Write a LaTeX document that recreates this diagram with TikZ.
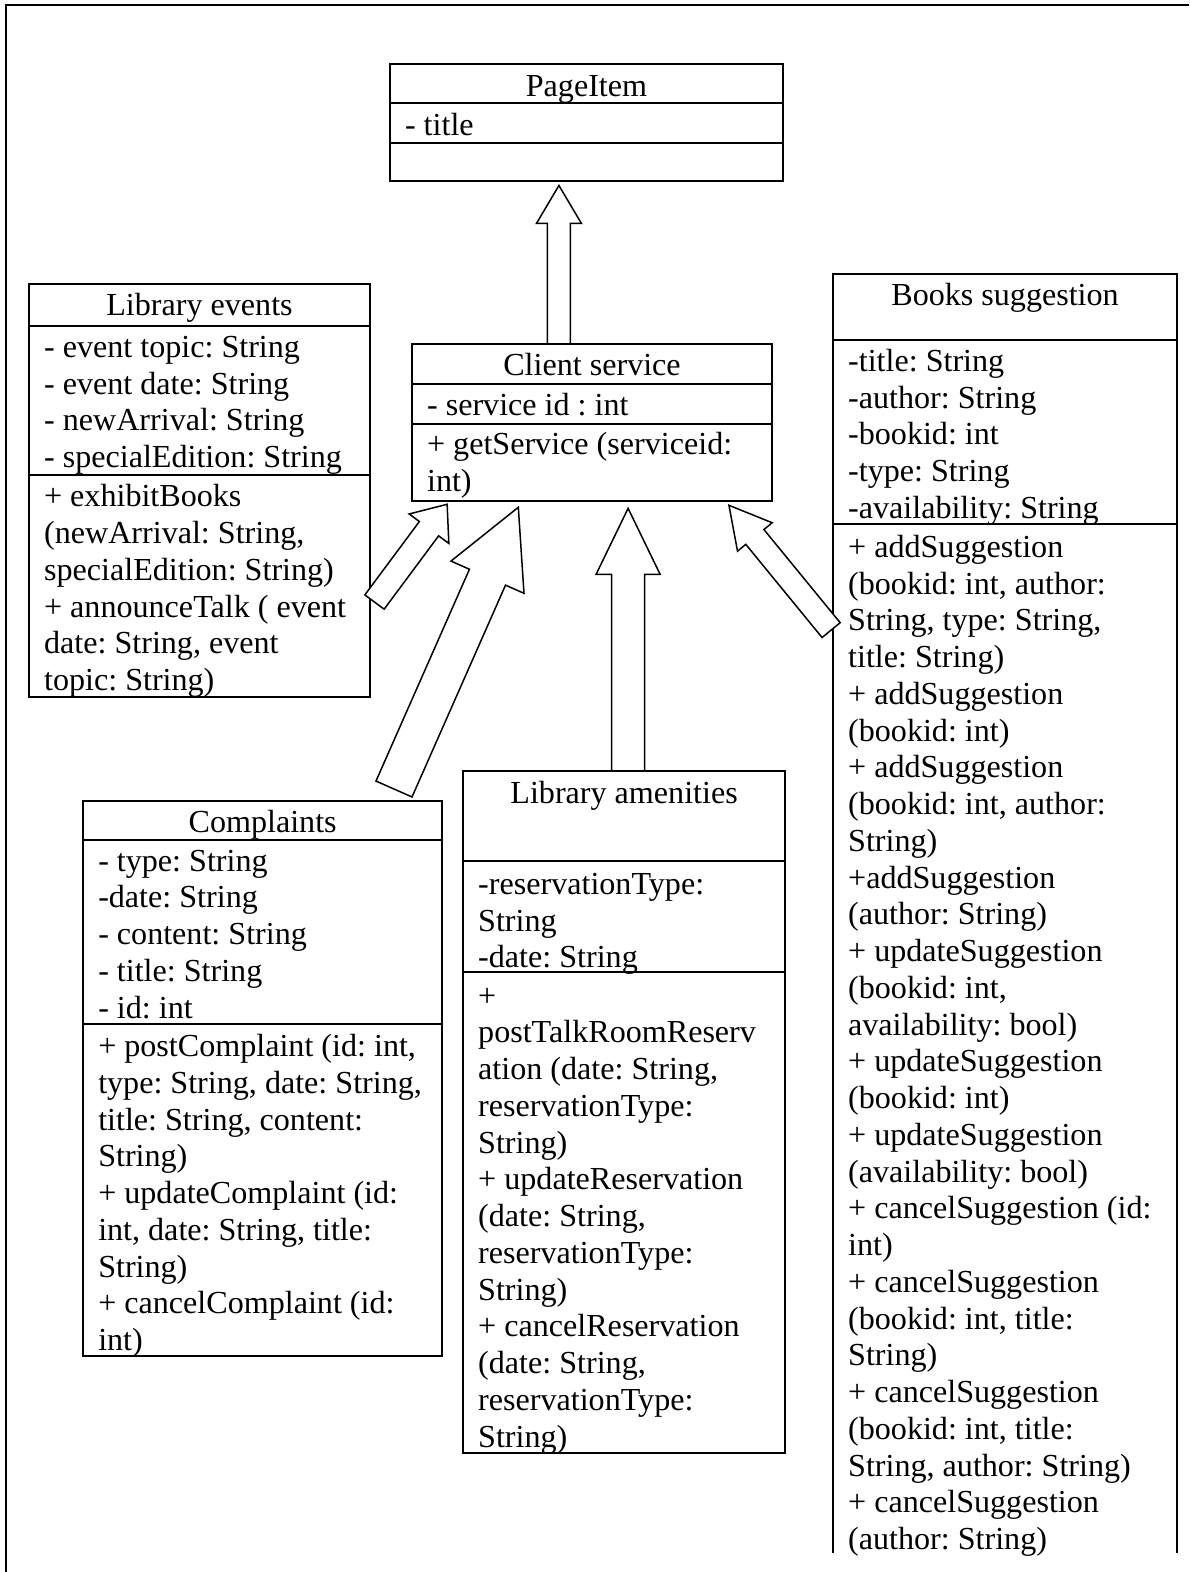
\documentclass[tikz,border=0pt]{standalone}
\usepackage{fontspec}
\setmainfont{Liberation Serif}
\usetikzlibrary{calc}

% one text row per line of a compartment, 36.65 units apart, baselines aligned
\newcommand\rows[4]{%
  \foreach \txt [count=\k from 0] in {#4} {%
    \node[rowtext] (#1\k) at (#2, {#3+\k*36.65}) {\txt};
  }%
}

% hollow block arrow: tail, tip, shaft half width, head half width, head length
\newcommand\blockarrow[5]{%
  \coordinate (bah) at ($(#2)!#5!(#1)$);
  \draw[hollowarrow]
    ($(#1)!#3!90:(#2)$) -- ($(bah)!#3!90:(#2)$) -- ($(bah)!#4!90:(#2)$) --
    (#2) --
    ($(bah)!#4!-90:(#2)$) -- ($(bah)!#3!-90:(#2)$) -- ($(#1)!#3!-90:(#2)$) -- cycle;
}

\begin{document}
\begin{tikzpicture}[x=1.00253pt, y=-1.00253pt,
  every node/.style={font=\fontsize{32.1pt}{36.8pt}\selectfont\frenchspacing},
  rowtext/.style={anchor=base west, inner sep=0pt, outer sep=0pt},
  titletext/.style={anchor=base, inner sep=0pt, outer sep=0pt},
  classbox/.style={draw, line width=2pt, inner sep=0pt, outer sep=0pt, anchor=north west},
  divider/.style={line width=2pt},
  hollowarrow/.style={draw, fill=white, line width=1.5pt, line join=miter}]

\useasboundingbox (0,0) rectangle (1186,1568);

% page frame
\draw[line width=2pt] (6,1568) -- (6,5) -- (1186,5);

% ---------- PageItem ----------
\node[classbox, minimum width=393pt, minimum height=117.3pt] (pi) at (389,64) {};
\draw[divider] ($(pi.north west)+(0,39)$) -- ($(pi.north east)+(0,39)$);
\draw[divider] ($(pi.north west)+(0,79)$) -- ($(pi.north east)+(0,79)$);
\node[titletext] (pi-t) at (585,96) {PageItem};
\rows{pi-a}{404}{135}{- title}

% ---------- Client service ----------
\node[classbox, minimum width=360pt, minimum height=157.4pt] (cs) at (411,343) {};
\draw[divider] ($(cs.north west)+(0,40)$) -- ($(cs.north east)+(0,40)$);
\draw[divider] ($(cs.north west)+(0,79.5)$) -- ($(cs.north east)+(0,79.5)$);
\node[titletext] (cs-t) at (590.5,375) {Client service};
\rows{cs-a}{426}{414.5}{- service id : int}
\rows{cs-m}{426}{453.5}{+ getService (serviceid:, int)}

% ---------- Library events ----------
\node[classbox, minimum width=340.9pt, minimum height=413pt] (le) at (29,283) {};
\draw[divider] ($(le.north west)+(0,42)$) -- ($(le.north east)+(0,42)$);
\draw[divider] ($(le.north west)+(0,191)$) -- ($(le.north east)+(0,191)$);
\node[titletext] (le-t) at (199,315) {Library events};
\rows{le-a}{44}{356.5}{- event topic: String, - event date: String, - newArrival: String, - specialEdition: String}
\rows{le-m}{44}{505.5}{+ exhibitBooks, {(newArrival: String,}, specialEdition: String), + announceTalk ( event, {date: String, event}, topic: String)}

% ---------- Complaints ----------
\node[classbox, minimum width=358.9pt, minimum height=555.4pt] (cp) at (83,799) {};
\draw[divider] ($(cp.north west)+(0,39)$) -- ($(cp.north east)+(0,39)$);
\draw[divider] ($(cp.north west)+(0,222)$) -- ($(cp.north east)+(0,222)$);
\node[titletext] (cp-t) at (262,830.5) {Complaints};
\rows{cp-a}{98}{869}{- type: String, -date: String, - content: String, - title: String, - id: int}
\rows{cp-m}{98}{1054}{{+ postComplaint (id: int,}, {type: String, date: String,}, {title: String, content:}, String), + updateComplaint (id:, {int, date: String, title:}, String), + cancelComplaint (id:, int)}

% ---------- Library amenities ----------
\node[classbox, minimum width=321.8pt, minimum height=681.7pt] (la) at (462,769) {};
\draw[divider] ($(la.north west)+(0,90)$) -- ($(la.north east)+(0,90)$);
\draw[divider] ($(la.north west)+(0,201)$) -- ($(la.north east)+(0,201)$);
\node[titletext] (la-t) at (622.5,801) {Library amenities};
\rows{la-a}{477}{892}{-reservationType:, String, -date: String}
\rows{la-m}{477}{1003.5}{+, postTalkRoomReserv, {ation (date: String,}, reservationType:, String), + updateReservation, {(date: String,}, reservationType:, String), + cancelReservation, {(date: String,}, reservationType:, String)}

% ---------- Books suggestion (open at the foot of the page) ----------
\node[anchor=north west, inner sep=0pt, outer sep=0pt, minimum width=343.9pt, minimum height=1279pt] (bs) at (831,273) {};
\draw[line width=2pt] (bs.south west) |- (bs.north east) -- (bs.south east);
\draw[divider] ($(bs.north west)+(0,66)$) -- ($(bs.north east)+(0,66)$);
\draw[divider] ($(bs.north west)+(0,250)$) -- ($(bs.north east)+(0,250)$);
\node[titletext] (bs-t) at (1002.5,304.5) {Books suggestion};
\rows{bs-a}{846}{370.5}{-title: String, -author: String, -bookid: int, -type: String, -availability: String}
\rows{bs-m}{846}{556}{+ addSuggestion, {(bookid: int, author:}, {String, type: String,}, title: String), + addSuggestion, (bookid: int), + addSuggestion, {(bookid: int, author:}, String), +addSuggestion, (author: String), + updateSuggestion, {(bookid: int,}, availability: bool), + updateSuggestion, (bookid: int), + updateSuggestion, (availability: bool), + cancelSuggestion (id:, int), + cancelSuggestion, {(bookid: int, title:}, String), + cancelSuggestion, {(bookid: int, title:}, {String, author: String)}, + cancelSuggestion, (author: String)}

% ---------- generalisation arrows ----------
\coordinate (a1tail) at ($(cs.north)+(-33,0)$);
\coordinate (a1tip)  at ($(pi.south)+(-27.5,4)$);
\blockarrow{a1tail}{a1tip}{11.5pt}{22.5pt}{38pt}

\coordinate (a2tail) at ($(le.north east)+(4.5,317.5)$);
\coordinate (a2tip)  at ($(cs.south west)+(35,3)$);
\blockarrow{a2tail}{a2tip}{12pt}{24.7pt}{30.4pt}

\coordinate (a3tail) at ($(cp.north west)+(310,-12)$);
\coordinate (a3tip)  at ($(cs.south west)+(106,6)$);
\blockarrow{a3tail}{a3tip}{19.7pt}{39.9pt}{76.4pt}

\coordinate (a4tail) at ($(la.north)+(4,0)$);
\coordinate (a4tip)  at ($(cs.south west)+(215.5,7)$);
\blockarrow{a4tail}{a4tip}{16.5pt}{32pt}{66pt}

\coordinate (a5tail) at ($(bs.north west)+(-2,355.5)$);
\coordinate (a5tip)  at ($(cs.south east)+(-43,4)$);
\blockarrow{a5tail}{a5tip}{11.7pt}{22.4pt}{40.9pt}

\end{tikzpicture}
\end{document}
